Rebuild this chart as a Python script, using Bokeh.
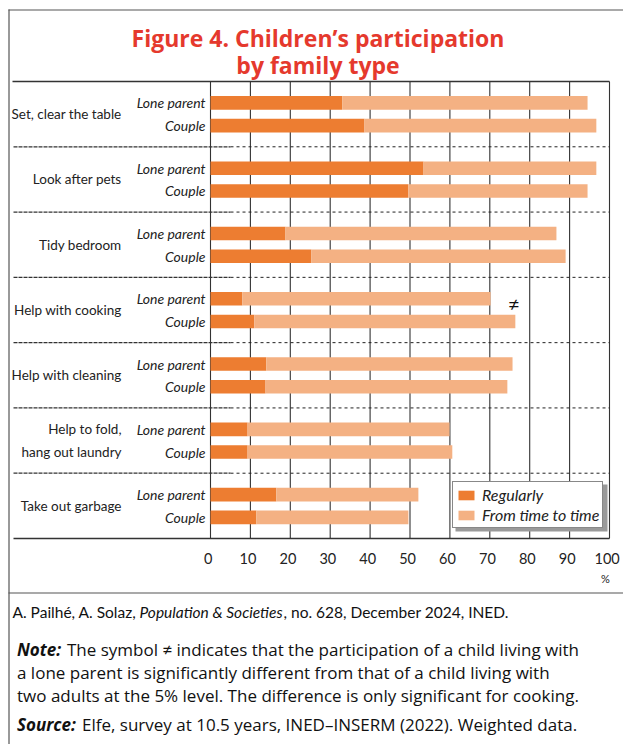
from bokeh.plotting import figure
from bokeh.models import Range1d, Legend, LegendItem
from bokeh.core.properties import value
from bokeh.embed import file_html
from bokeh.resources import INLINE

# ---------------- data ----------------
categories = ["Set, clear the table", "Look after pets", "Tidy bedroom",
              "Help with cooking", "Help with cleaning",
              "Help to fold,\nhang out laundry", "Take out garbage"]
family = ["Lone parent", "Couple"]
regular_lone = [33.0, 53.4, 18.8, 8.0, 14.0, 9.3, 16.5]
occasional_lone = [61.5, 43.3, 67.9, 62.2, 61.7, 50.6, 35.6]
regular_couple = [38.6, 49.6, 25.3, 11.0, 13.8, 9.3, 11.5]
occasional_couple = [58.1, 44.9, 63.7, 65.4, 60.6, 51.3, 38.1]
significant = [False, False, False, True, False, False, False]
x_ticks = [0, 10, 20, 30, 40, 50, 60, 70, 80, 90, 100]
x_tick_labels = [str(t) for t in x_ticks]
series_labels = ["Regularly", "From time to time"]
title_lines = ["Figure 4. Children\u2019s participation", "by family type"]

# ---------------- layout (page pixels) ----------------
W, H = 623, 744
PL, PR, PT, PB = 210, 609, 81, 538
sx = (PR - PL) / 100.0
n = len(categories)
gh = (PB - PT) / n


def X(px):
    return (px - PL) / sx


def Y(py):
    return (py - PT) / gh


DARK = "#ED7D31"
LIGHT = "#F4B183"
RED = "#E5392D"
FR = "Lato"
FN = "Open Sans"

p = figure(width=W, height=H,
           x_range=Range1d(X(0), X(W)),
           y_range=Range1d(Y(H), Y(0)),
           x_axis_location=None, y_axis_location=None,
           output_backend="svg", toolbar_location=None, min_border=0)
p.grid.visible = False
p.outline_line_color = None
p.background_fill_color = "white"
p.border_fill_color = "white"

# outer frame lines
p.segment(x0=[X(8.5), X(8), X(8)], y0=[Y(9), Y(9.5), Y(592.5)],
          x1=[X(8.5), X(W), X(W)], y1=[Y(H), Y(9.5), Y(592.5)],
          line_color="#555555", line_width=1.2)

# vertical grid lines
p.segment(x0=x_ticks, y0=[0] * len(x_ticks), x1=x_ticks, y1=[n] * len(x_ticks),
          line_color="#333333", line_width=1.1)

# top & bottom solid lines
p.segment(x0=[X(12), X(13)], y0=[0, n], x1=[100, 100], y1=[0, n],
          line_color="#333333", line_width=1.4)

# group separators
seps = list(range(1, n))
p.segment(x0=[X(13)] * len(seps), y0=seps, x1=[X(230)] * len(seps), y1=seps,
          line_color="#333333", line_width=1.2, line_dash="4 1")
p.segment(x0=[X(230)] * len(seps), y0=seps, x1=[100] * len(seps), y1=seps,
          line_color="#222222", line_width=1.0, line_dash="3 3")

# bars
y_lone = [k + 0.5 - 0.172 for k in range(n)]
y_couple = [k + 0.5 + 0.176 for k in range(n)]
bh = 0.208
tot_lone = [a + b for a, b in zip(regular_lone, occasional_lone)]
tot_couple = [a + b for a, b in zip(regular_couple, occasional_couple)]

r_reg = p.hbar(y=y_lone, left=0, right=regular_lone, height=bh,
               fill_color=DARK, line_color=None)
r_occ = p.hbar(y=y_lone, left=regular_lone, right=tot_lone, height=bh,
               fill_color=LIGHT, line_color=None)
p.hbar(y=y_couple, left=0, right=regular_couple, height=bh,
       fill_color=DARK, line_color=None)
p.hbar(y=y_couple, left=regular_couple, right=tot_couple, height=bh,
       fill_color=LIGHT, line_color=None)

# significance marks
sig_x = [max(a, b) - 0.4 for a, b, s in zip(tot_lone, tot_couple, significant) if s]
sig_y = [k + 0.5 - 0.1 for k, s in enumerate(significant) if s]
p.text(x=sig_x, y=sig_y, text=["\u2260"] * len(sig_x), text_font=value(FR),
       text_font_size="21px", text_align="center", text_baseline="middle",
       text_color="#111111")

# category labels
p.text(x=[X(121)] * n, y=[k + 0.5 for k in range(n)], text=categories,
       text_font=value(FR), text_font_size="13.5px", text_align="right",
       text_baseline="middle", text_color="#222222", text_line_height=1.45)
# family labels
p.text(x=[X(205)] * n, y=y_lone, text=[family[0]] * n,
       text_font=value(FR), text_font_size="14px", text_font_style="italic",
       text_align="right", text_baseline="middle", text_color="#222222")
p.text(x=[X(205)] * n, y=y_couple, text=[family[1]] * n,
       text_font=value(FR), text_font_size="14px", text_font_style="italic",
       text_align="right", text_baseline="middle", text_color="#222222")

# x tick labels
p.text(x=[t - 0.6 for t in x_ticks], y=[Y(558)] * len(x_ticks), text=x_tick_labels,
       text_font=value(FR), text_font_size="14.5px", text_align="center",
       text_baseline="middle", text_color="#222222")
p.text(x=[X(605)], y=[Y(578)], text=["%"], text_font=value(FR),
       text_font_size="11px", text_align="center", text_baseline="middle",
       text_color="#222222")

# title
p.text(x=[X(317.5)] * 2, y=[Y(37), Y(64.5)], text=title_lines,
       text_font=value(FN), text_font_size="23px", text_font_style="bold",
       text_align="center", text_baseline="alphabetic", text_color=RED)

# legend shadow + legend
p.quad(left=[X(455)], right=[X(607)], top=[Y(484)], bottom=[Y(531)],
       fill_color="#9a9a9a", line_color=None)
legend = Legend(items=[LegendItem(label=series_labels[0], renderers=[r_reg]),
                       LegendItem(label=series_labels[1], renderers=[r_occ])],
                location=(452, H - 528))
legend.margin = 0
legend.padding = 3
legend.spacing = 1
legend.glyph_width = 20
legend.glyph_height = 12
legend.label_height = 19
legend.label_standoff = 6
legend.label_text_font = FR
legend.label_text_font_style = "italic"
legend.label_text_font_size = "16px"
legend.label_text_color = "#222222"
legend.border_line_color = "#111111"
legend.border_line_width = 1
legend.background_fill_color = "white"
legend.background_fill_alpha = 1.0
p.add_layout(legend)

# citation & notes
tc = "#111111"
p.text(x=[X(12)], y=[Y(611)], text=["A. Pailh\u00e9, A. Solaz,"], text_font=value(FR),
       text_font_size="15.5px", text_baseline="middle", text_color=tc)
p.text(x=[X(139)], y=[Y(611)], text=["Population & Societies"], text_font=value(FR),
       text_font_size="15.5px", text_font_style="italic", text_baseline="middle", text_color=tc)
p.text(x=[X(283)], y=[Y(611)], text=[", no. 628, December 2024, INED."], text_font=value(FR),
       text_font_size="15.5px", text_baseline="middle", text_color=tc)

p.text(x=[X(16.5), X(16.5)], y=[Y(649), Y(724)], text=["Note:", "Source:"], text_font=value(FN),
       text_font_size="17px", text_font_style="bold italic", text_baseline="middle",
       text_color=tc)
p.text(x=[X(66.5), X(16.5), X(16.5), X(81.5)], y=[Y(649), Y(672), Y(695), Y(724)],
       text=["The symbol \u2260 indicates that the participation of a child living with",
             "a lone parent is significantly different from that of a child living with",
             "two adults at the 5% level. The difference is only significant for cooking.",
             "Elfe, survey at 10.5 years, INED\u2013INSERM (2022). Weighted data."],
       text_font=value(FN), text_font_size="17px", text_baseline="middle", text_color=tc)

open("out.html", "w").write(file_html(p, INLINE))
